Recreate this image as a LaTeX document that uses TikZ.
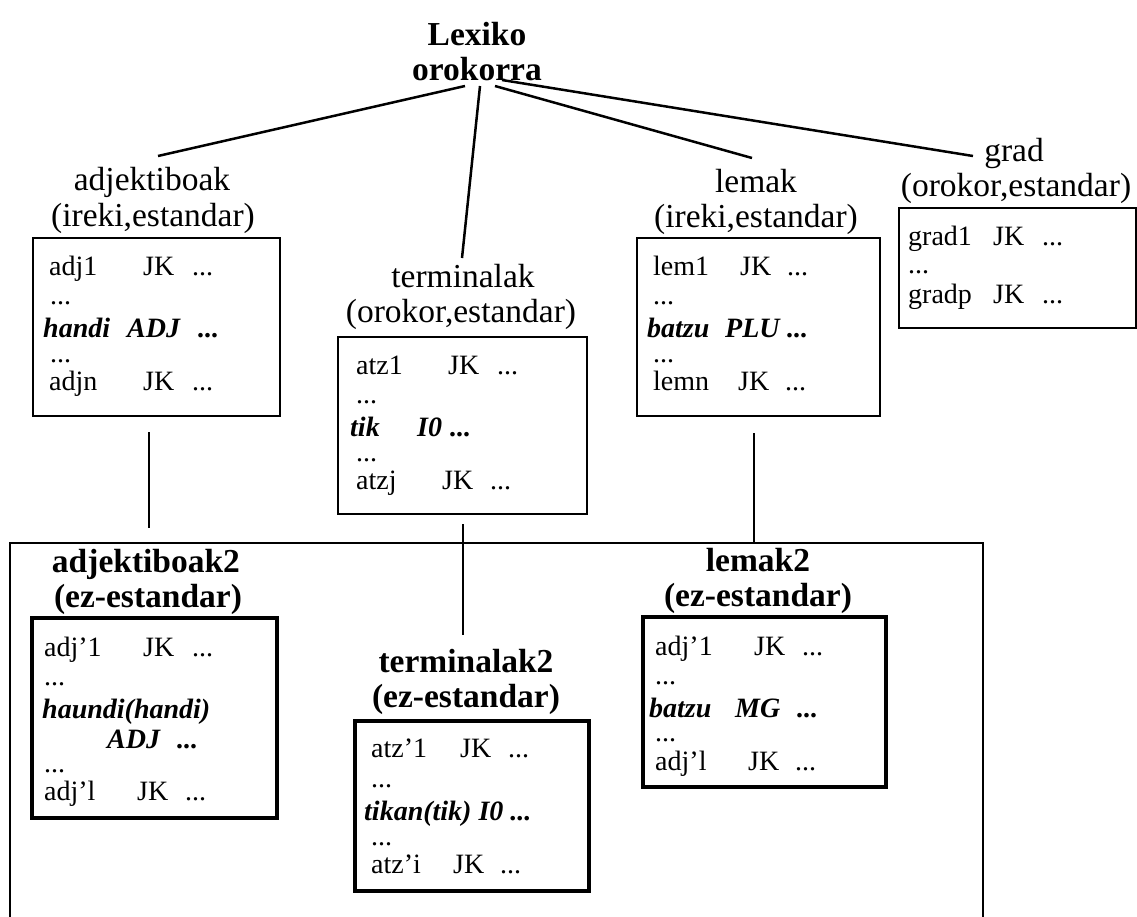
\documentclass[tikz,border=0pt]{standalone}
\usepackage{fontspec}
\setmainfont{Liberation Serif}
\begin{document}
\begin{tikzpicture}[x=1pt,y=-1pt,
  lbl/.style={inner sep=0, anchor=base, font=\fontsize{33.5}{35}\selectfont},
  blbl/.style={inner sep=0, anchor=base, font=\fontsize{33.5}{35}\selectfont\bfseries},
  txt/.style={inner sep=0, anchor=base west, font=\fontsize{28}{30}\selectfont},
  btxt/.style={inner sep=0, anchor=base west, font=\fontsize{28}{30}\selectfont\bfseries\itshape},
  thinbox/.style={draw, line width=2pt, inner sep=0, outer sep=0, anchor=north west},
  thickbox/.style={draw, line width=4.5pt, inner sep=0, outer sep=0, anchor=north west},
  conn/.style={line width=2.5pt},
  frame/.style={line width=2pt}]
\useasboundingbox (0,0) rectangle (1137,916);

% root
\node[blbl] (lexA) at (477,45) {Lexiko};
\node[blbl] (lexB) at (477,80) {orokorra};

% labels upper level
\node[lbl] (adjA) at (152,190) {adjektiboak};
\node[lbl] (adjB) at (153,226) {(ireki,estandar)};
\node[lbl] (terA) at (463,287) {terminalak};
\node[lbl] (terB) at (461,322) {(orokor,estandar)};
\node[lbl] (lemA) at (756,192) {lemak};
\node[lbl] (lemB) at (756,227) {(ireki,estandar)};
\node[lbl] (grdA) at (1014,161) {grad};
\node[lbl] (grdB) at (1016,196) {(orokor,estandar)};

% boxes upper level
\node[thinbox, minimum width=247pt, minimum height=178pt] (badj) at (33,238) {};
\node[thinbox, minimum width=249pt, minimum height=177pt] (bter) at (338,337) {};
\node[thinbox, minimum width=243pt, minimum height=178pt] (blem) at (637,238) {};
\node[thinbox, minimum width=237pt, minimum height=120pt] (bgrd) at (899,208) {};

% adj box contents
\node[txt] (a1) at (49,275) {adj1};
\node[txt] (a1b) at (143,275) {JK};
\node[txt] (a1c) at (192,275) {...};
\node[txt] (a2) at (50,304) {...};
\node[btxt] (a3) at (43,337) {handi};
\node[btxt] (a3b) at (127,337) {ADJ};
\node[btxt] (a3c) at (198,337) {...};
\node[txt] (a4) at (50,362) {...};
\node[txt] (a5) at (49,390) {adjn};
\node[txt] (a5b) at (143,390) {JK};
\node[txt] (a5c) at (192,390) {...};

% terminalak box contents
\node[txt] (t1) at (356,374) {atz1};
\node[txt] (t1b) at (448,374) {JK};
\node[txt] (t1c) at (497,374) {...};
\node[txt] (t2) at (356,403) {...};
\node[btxt] (t3) at (350,436) {tik};
\node[btxt] (t3b) at (417,436) {I0};
\node[btxt] (t3c) at (450,436) {...};
\node[txt] (t4) at (356,461) {...};
\node[txt] (t5) at (356,489) {atzj};
\node[txt] (t5b) at (442,489) {JK};
\node[txt] (t5c) at (490,489) {...};

% lemak box contents
\node[txt] (m1) at (653,275) {lem1};
\node[txt] (m1b) at (740,275) {JK};
\node[txt] (m1c) at (787,275) {...};
\node[txt] (m2) at (653,304) {...};
\node[btxt] (m3) at (647,337) {batzu};
\node[btxt] (m3b) at (725,337) {PLU};
\node[btxt] (m3c) at (787,337) {...};
\node[txt] (m4) at (653,362) {...};
\node[txt] (m5) at (653,390) {lemn};
\node[txt] (m5b) at (738,390) {JK};
\node[txt] (m5c) at (785,390) {...};

% grad box contents
\node[txt] (g1) at (908,245) {grad1};
\node[txt] (g1b) at (993,245) {JK};
\node[txt] (g1c) at (1042,245) {...};
\node[txt] (g2) at (908,273) {...};
\node[txt] (g3) at (908,303) {gradp};
\node[txt] (g3b) at (993,303) {JK};
\node[txt] (g3c) at (1042,303) {...};

% connectors from root
\coordinate (r1) at (465,86);
\coordinate (r2) at (480,86);
\coordinate (r3) at (495,86);
\coordinate (r4) at (502,80);
\coordinate (e1) at (158,156);
\coordinate (e2) at (462,258);
\coordinate (e3) at (752,158);
\coordinate (e4) at (973,156);
\draw[conn] (r1) -- (e1);
\draw[conn] (r2) -- (e2);
\draw[conn] (r3) -- (e3);
\draw[conn] (r4) -- (e4);

% big frame (open at bottom)
\coordinate (fbl) at (10,920);
\coordinate (ftl) at (10,543);
\coordinate (ftr) at (983,543);
\coordinate (fbr) at (983,920);
\draw[frame] (fbl) -- (ftl) -- (ftr) -- (fbr);

% vertical connectors
\coordinate (va1) at (149,432);
\coordinate (va2) at (149,528);
\coordinate (vt1) at (463,524);
\coordinate (vt2) at (463,635);
\coordinate (vl1) at (754,433);
\coordinate (vl2) at (754,543);
\draw[conn] (va1) -- (va2);
\draw[conn] (vt1) -- (vt2);
\draw[conn] (vl1) -- (vl2);

% lower level labels
\node[blbl] (adj2A) at (146,572) {adjektiboak2};
\node[blbl] (adj2B) at (148,607) {(ez-estandar)};
\node[blbl] (ter2A) at (466,672) {terminalak2};
\node[blbl] (ter2B) at (466,707) {(ez-estandar)};
\node[blbl] (lem2A) at (758,571) {lemak2};
\node[blbl] (lem2B) at (758,606) {(ez-estandar)};

% lower level boxes
\node[thickbox, minimum width=245pt, minimum height=200pt] (badj2) at (32,618) {};
\node[thickbox, minimum width=234pt, minimum height=170pt] (bter2) at (355,721) {};
\node[thickbox, minimum width=243pt, minimum height=170pt] (blem2) at (643,617) {};

% adj2 contents
\node[txt] (b1) at (44,656) {adj'1};
\node[txt] (b1b) at (143,656) {JK};
\node[txt] (b1c) at (192,656) {...};
\node[txt] (b2) at (44,685) {...};
\node[btxt] (b3) at (42,718) {haundi(handi)};
\node[btxt] (b3b) at (107,748) {ADJ};
\node[btxt] (b3c) at (177,748) {...};
\node[txt] (b4) at (44,772) {...};
\node[txt] (b5) at (44,800) {adj'l};
\node[txt] (b5b) at (137,800) {JK};
\node[txt] (b5c) at (185,800) {...};

% terminalak2 contents
\node[txt] (u1) at (371,757) {atz'1};
\node[txt] (u1b) at (460,757) {JK};
\node[txt] (u1c) at (508,757) {...};
\node[txt] (u2) at (371,787) {...};
\node[btxt] (u3) at (364,820) {tikan(tik) I0 ...};
\node[txt] (u4) at (371,845) {...};
\node[txt] (u5) at (371,873) {atz'i};
\node[txt] (u5b) at (453,873) {JK};
\node[txt] (u5c) at (500,873) {...};

% lemak2 contents
\node[txt] (n1) at (655,655) {adj'1};
\node[txt] (n1b) at (754,655) {JK};
\node[txt] (n1c) at (802,655) {...};
\node[txt] (n2) at (655,684) {...};
\node[btxt] (n3) at (649,717) {batzu};
\node[btxt] (n3b) at (735,717) {MG};
\node[btxt] (n3c) at (797,717) {...};
\node[txt] (n4) at (655,741) {...};
\node[txt] (n5) at (655,770) {adj'l};
\node[txt] (n5b) at (748,770) {JK};
\node[txt] (n5c) at (795,770) {...};
\end{tikzpicture}
\end{document}
